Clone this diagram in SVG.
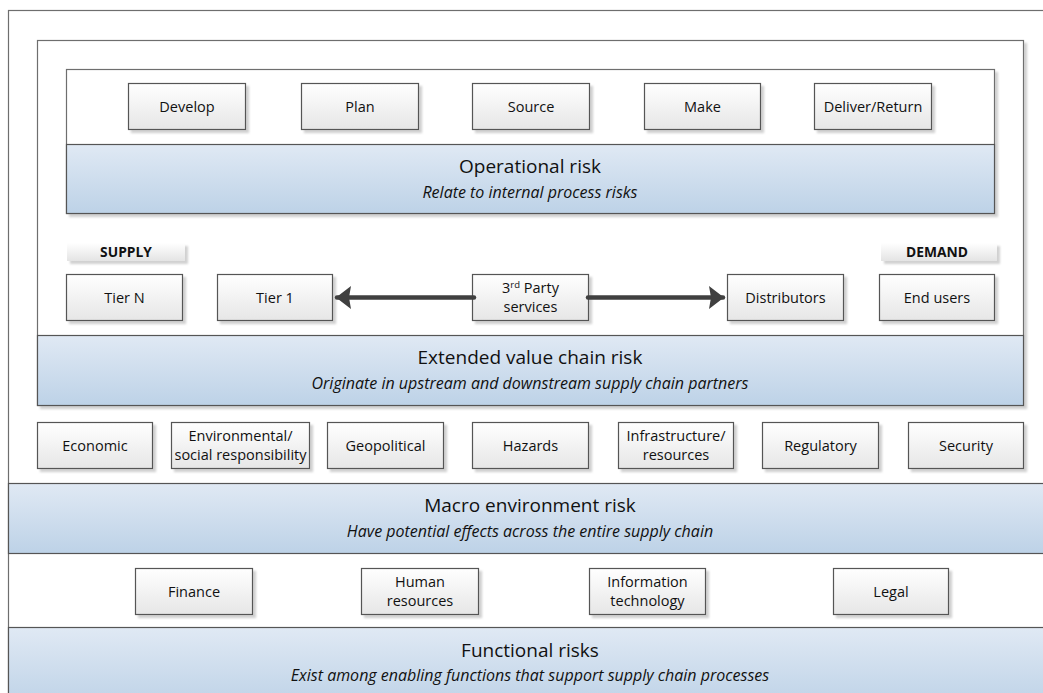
<svg xmlns="http://www.w3.org/2000/svg" width="1043" height="693" viewBox="0 0 1043 693">
<defs>
<linearGradient id="band" x1="0" y1="0" x2="0" y2="1"><stop offset="0" stop-color="#e0e9f4"/><stop offset="1" stop-color="#bdd2e7"/></linearGradient>
<linearGradient id="box" x1="0" y1="0" x2="0" y2="1"><stop offset="0" stop-color="#ffffff"/><stop offset="1" stop-color="#e6e6e6"/></linearGradient>
<linearGradient id="lbl" x1="0" y1="0" x2="0" y2="1"><stop offset="0" stop-color="#ffffff"/><stop offset="1" stop-color="#e4e4e4"/></linearGradient>
<filter id="sh" x="-10%" y="-10%" width="130%" height="140%"><feDropShadow dx="3" dy="3" stdDeviation="1" flood-color="#000" flood-opacity="0.18"/></filter>
<marker id="ah" viewBox="0 0 15 23" refX="14" refY="11.5" markerWidth="15" markerHeight="23" orient="auto" markerUnits="userSpaceOnUse"><path d="M0,0 L15,11.5 L0,23 L2,11.5 z" fill="#404040"/></marker>
</defs>
<style>
.frame{fill:#fff;stroke:#6e6e6e;stroke-width:1.2}
.band{fill:url(#band);stroke:#555;stroke-width:1.2}
.box{fill:url(#box);stroke:#555;stroke-width:1.2;filter:url(#sh)}
.lbl{fill:url(#lbl);filter:url(#sh)}
.t{font-family:"Open Sans","Noto Sans",sans-serif;font-size:14.5px;fill:#111;text-anchor:middle}
.b{font-weight:bold;font-size:13.8px}
.h{font-family:"Open Sans","Noto Sans",sans-serif;font-size:19px;fill:#111;text-anchor:middle}
.s{font-family:"Open Sans","Noto Sans",sans-serif;font-size:16px;font-style:italic;fill:#111;text-anchor:middle}
.arr{stroke:#404040;stroke-width:4.5;stroke-linecap:round;fill:none;marker-end:url(#ah)}
</style>
<rect width="1043" height="693" fill="#fff"/>
<g id="outer"><rect class="frame" x="8.5" y="10.5" width="1060" height="700"/></g>
<g id="extended">
<rect class="frame" x="37.5" y="40.5" width="986" height="365" filter="url(#sh)"/>
<rect class="band" x="37.5" y="335.5" width="986" height="70"/>
<text class="h" x="530" y="364">Extended value chain risk</text>
<text class="s" x="530" y="389">Originate in upstream and downstream supply chain partners</text>
</g>
<g id="operational">
<rect class="frame" x="66.5" y="69.5" width="928" height="144" filter="url(#sh)"/>
<rect class="band" x="66.5" y="144.5" width="928" height="69"/>
<text class="h" x="530" y="173">Operational risk</text>
<text class="s" x="530" y="198">Relate to internal process risks</text>
</g>
<g id="develop"><rect class="box" x="128.5" y="83.5" width="117" height="46"/><text class="t" x="187" y="111.5">Develop</text></g>
<g id="plan"><rect class="box" x="301.5" y="83.5" width="117" height="46"/><text class="t" x="360" y="111.5">Plan</text></g>
<g id="source"><rect class="box" x="472.5" y="83.5" width="117" height="46"/><text class="t" x="531" y="111.5">Source</text></g>
<g id="make"><rect class="box" x="644.5" y="83.5" width="116" height="46"/><text class="t" x="702.5" y="111.5">Make</text></g>
<g id="deliver"><rect class="box" x="814.5" y="83.5" width="117" height="46"/><text class="t" x="873" y="111.5">Deliver/Return</text></g>
<g id="supply"><rect class="lbl" x="67" y="243" width="118" height="18"/><text class="t b" x="126" y="257">SUPPLY</text></g>
<g id="demand"><rect class="lbl" x="881" y="243" width="116" height="18"/><text class="t b" x="937" y="257">DEMAND</text></g>
<g id="tiern"><rect class="box" x="66.5" y="274.5" width="116" height="46"/><text class="t" x="124.5" y="302.5">Tier N</text></g>
<g id="tier1"><rect class="box" x="217.5" y="274.5" width="115" height="46"/><text class="t" x="275" y="302.5">Tier 1</text></g>
<g id="third"><rect class="box" x="472.5" y="274.5" width="116" height="46"/><text class="t" x="530.5" y="293">3<tspan font-size="9.5" dy="-5">rd</tspan><tspan dy="5"> Party</tspan></text><text class="t" x="530.5" y="312">services</text></g>
<g id="distributors"><rect class="box" x="727.5" y="274.5" width="116" height="46"/><text class="t" x="785.5" y="302.5">Distributors</text></g>
<g id="endusers"><rect class="box" x="879.5" y="274.5" width="115" height="46"/><text class="t" x="937" y="302.5">End users</text></g>
<g id="connectors">
<line class="arr" x1="474" y1="297.5" x2="337" y2="297.5"/>
<line class="arr" x1="588" y1="297.5" x2="723" y2="297.5"/>
</g>
<g id="economic"><rect class="box" x="37.5" y="422.5" width="115" height="46"/><text class="t" x="95" y="450.5">Economic</text></g>
<g id="environmental"><rect class="box" x="171.5" y="422.5" width="138" height="46"/><text class="t" x="240.5" y="441">Environmental/</text><text class="t" x="240.5" y="460">social responsibility</text></g>
<g id="geopolitical"><rect class="box" x="327.5" y="422.5" width="116" height="46"/><text class="t" x="385.5" y="450.5">Geopolitical</text></g>
<g id="hazards"><rect class="box" x="472.5" y="422.5" width="116" height="46"/><text class="t" x="530.5" y="450.5">Hazards</text></g>
<g id="infrastructure"><rect class="box" x="618.5" y="422.5" width="115" height="46"/><text class="t" x="676" y="441">Infrastructure/</text><text class="t" x="676" y="460">resources</text></g>
<g id="regulatory"><rect class="box" x="762.5" y="422.5" width="116" height="46"/><text class="t" x="820.5" y="450.5">Regulatory</text></g>
<g id="security"><rect class="box" x="908.5" y="422.5" width="115" height="46"/><text class="t" x="966" y="450.5">Security</text></g>
<g id="macro">
<rect class="band" x="8.5" y="483.5" width="1060" height="70"/>
<text class="h" x="530" y="512">Macro environment risk</text>
<text class="s" x="530" y="537">Have potential effects across the entire supply chain</text>
</g>
<g id="finance"><rect class="box" x="135.5" y="568.5" width="117" height="46"/><text class="t" x="194" y="596.5">Finance</text></g>
<g id="human"><rect class="box" x="361.5" y="568.5" width="117" height="46"/><text class="t" x="420" y="587">Human</text><text class="t" x="420" y="606">resources</text></g>
<g id="it"><rect class="box" x="589.5" y="568.5" width="116" height="46"/><text class="t" x="647.5" y="587">Information</text><text class="t" x="647.5" y="606">technology</text></g>
<g id="legal"><rect class="box" x="833.5" y="568.5" width="115" height="46"/><text class="t" x="891" y="596.5">Legal</text></g>
<g id="functional">
<rect class="band" x="8.5" y="627.5" width="1060" height="80"/>
<text class="h" x="530" y="657">Functional risks</text>
<text class="s" x="530" y="681">Exist among enabling functions that support supply chain processes</text>
</g>
</svg>
